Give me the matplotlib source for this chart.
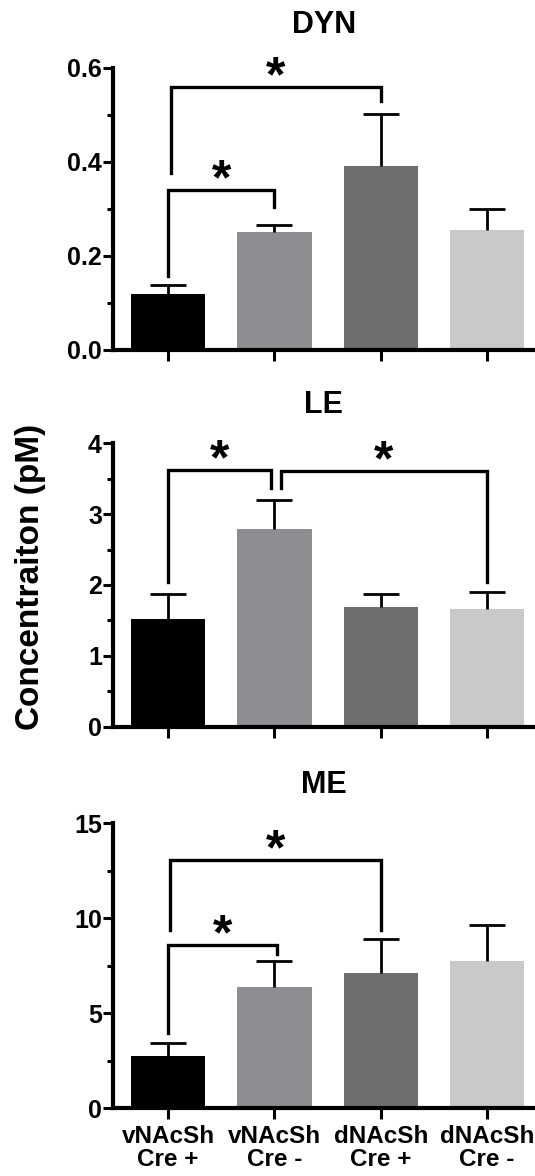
import matplotlib
matplotlib.use("Agg")
import matplotlib.pyplot as plt
from matplotlib.ticker import FixedLocator

plt.rcParams['font.family'] = ['Liberation Sans', 'DejaVu Sans']
plt.rcParams['font.weight'] = 'bold'

# ---- data ----
categories = ["vNAcSh\nCre +", "vNAcSh\nCre -", "dNAcSh\nCre +", "dNAcSh\nCre -"]
colors = ["#000000", "#8D8D92", "#6E6E6E", "#C9C9C9"]

dyn_mean = [0.120, 0.251, 0.392, 0.256]
dyn_sem = [0.019, 0.014, 0.110, 0.043]
le_mean = [1.52, 2.79, 1.69, 1.66]
le_sem = [0.35, 0.41, 0.18, 0.24]
me_mean = [2.75, 6.40, 7.14, 7.77]
me_sem = [0.71, 1.37, 1.77, 1.88]

dyn_ticks = [0.0, 0.2, 0.4, 0.6]
dyn_ticklabels = ["0.0", "0.2", "0.4", "0.6"]
le_ticks = [0, 1, 2, 3, 4]
le_ticklabels = ["0", "1", "2", "3", "4"]
me_ticks = [0, 5, 10, 15]
me_ticklabels = ["0", "5", "10", "15"]

# significance brackets: (x_left, x_right, y_top, y_left_end, y_right_end)
dyn_brackets = [(0.0, 1.0, 0.341, 0.157, 0.304), (0.03, 2.0, 0.560, 0.376, 0.530)]
le_brackets = [(0.0, 0.97, 3.62, 2.04, 3.37), (1.06, 3.0, 3.61, 3.37, 2.04)]
me_brackets = [(0.0, 1.02, 8.60, 3.95, 8.12), (0.02, 2.0, 13.07, 9.39, 9.39)]

panels = [
    ("DYN", dyn_mean, dyn_sem, dyn_ticks, dyn_ticklabels, 0.6, 0.1, dyn_brackets, [0.7024, 0.2398], 25),
    ("LE", le_mean, le_sem, le_ticks, le_ticklabels, 4, 0.5, le_brackets, [0.3821, 0.2410], 22),
    ("ME", me_mean, me_sem, me_ticks, me_ticklabels, 15, 2.5, me_brackets, [0.0576, 0.2423], 22),
]

fig = plt.figure(figsize=(5.35, 11.76), dpi=100)
left = 113 / 535
width = 1 - left
x = list(range(len(categories)))

for i, (title, mean, sem, ticks, ticklabels, ymax, minor, brackets, (bot, h), tpad) in enumerate(panels):
    ax = fig.add_axes([left, bot, width, h])
    ax.bar(x, mean, width=0.70, color=colors, edgecolor='none', zorder=2)
    eb = ax.errorbar(x, mean, yerr=[[0] * len(sem), sem], fmt='none', ecolor='black',
                     elinewidth=2.0, capsize=13, capthick=2.0, zorder=3)
    caplines = eb[1]
    if len(caplines) > 1:
        caplines[0].set_visible(False)
    ax.set_xlim(-0.517, 3.45)
    ax.set_ylim(0, ymax)
    ax.set_yticks(ticks)
    ax.set_yticklabels(ticklabels, fontsize=18, fontweight='bold')
    minors = []
    v = minor
    while v < ymax:
        minors.append(v)
        v += 2 * minor
    ax.yaxis.set_minor_locator(FixedLocator(minors))
    ax.set_xticks(x)
    if i == 2:
        ax.set_xticklabels(categories, fontsize=17.5, fontweight='bold', linespacing=1.0)
    else:
        ax.set_xticklabels([])
    for s in ['top', 'right']:
        ax.spines[s].set_visible(False)
    for s in ['left', 'bottom']:
        ax.spines[s].set_linewidth(3)
    ax.tick_params(axis='y', which='major', length=7, width=2.2, pad=1)
    ax.tick_params(axis='y', which='minor', length=4.5, width=2.2)
    ax.tick_params(axis='x', which='major', length=8, width=2.2, pad=4)
    ax.set_title(title, fontsize=22, fontweight='bold', pad=tpad)
    for (x1, x2, yt, yl, yr) in brackets:
        ax.plot([x1, x1, x2, x2], [yl, yt, yt, yr], color='black', lw=2.4,
                solid_joinstyle='miter', clip_on=False, zorder=4)
        ax.annotate("*", xy=((x1 + x2) / 2, yt), xytext=(0, -3), textcoords='offset points',
                    ha='center', va='baseline', fontsize=36, fontweight='bold',
                    annotation_clip=False)

fig.text(31 / 535, 0.509, "Concentraiton (pM)", rotation=90, ha='center', va='center',
         fontsize=24, fontweight='bold')

fig.savefig("out.png", dpi=100)
